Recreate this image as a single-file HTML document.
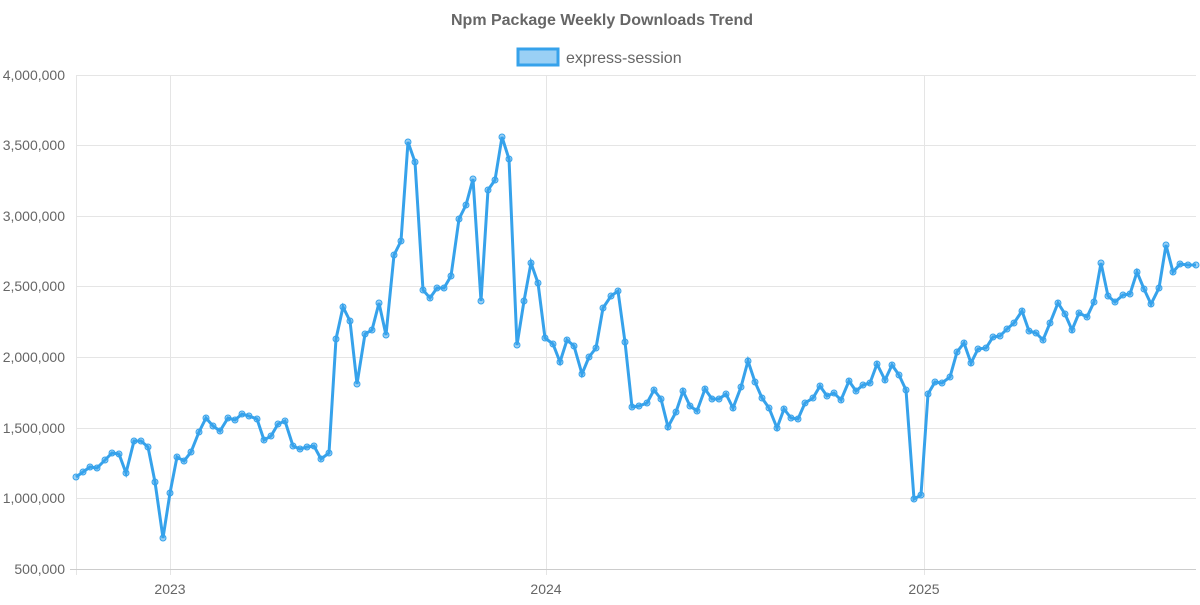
<!DOCTYPE html>
<html><head><meta charset="utf-8"><style>
body{margin:0;background:#fff;width:1200px;height:600px;overflow:hidden;font-family:"Liberation Sans",sans-serif}
</style></head><body>
<svg width="1200" height="600" xmlns="http://www.w3.org/2000/svg" font-family="Liberation Sans, sans-serif">
<text x="602" y="25" text-anchor="middle" font-size="16" font-weight="bold" fill="#666">Npm Package Weekly Downloads Trend</text>
<rect x="518" y="49" width="40" height="16" fill="rgba(54,162,235,0.5)" stroke="#36a2eb" stroke-width="3"/>
<text x="566" y="63" font-size="16" fill="#666">express-session</text>
<g stroke="#e5e5e5" stroke-width="1">
<line x1="76" y1="75.5" x2="1196" y2="75.5"/><line x1="76" y1="145.5" x2="1196" y2="145.5"/>
<line x1="76" y1="216.5" x2="1196" y2="216.5"/><line x1="76" y1="286.5" x2="1196" y2="286.5"/>
<line x1="76" y1="357.5" x2="1196" y2="357.5"/><line x1="76" y1="428.5" x2="1196" y2="428.5"/>
<line x1="76" y1="498.5" x2="1196" y2="498.5"/>
<line x1="76.5" y1="75" x2="76.5" y2="575"/><line x1="170.5" y1="75" x2="170.5" y2="575"/>
<line x1="546.5" y1="75" x2="546.5" y2="575"/><line x1="924.5" y1="75" x2="924.5" y2="575"/>
</g>
<line x1="70" y1="569.5" x2="1196" y2="569.5" stroke="#ccc"/>
<g font-size="14" fill="#666" text-anchor="end">
<text x="65" y="80">4,000,000</text><text x="65" y="150">3,500,000</text><text x="65" y="221">3,000,000</text>
<text x="65" y="291">2,500,000</text><text x="65" y="362">2,000,000</text><text x="65" y="433">1,500,000</text>
<text x="65" y="503">1,000,000</text><text x="65" y="574">500,000</text>
</g>
<g font-size="14" fill="#666" text-anchor="middle">
<text x="170" y="594">2023</text><text x="546" y="594">2024</text><text x="924" y="594">2025</text>
</g>
<polyline id="p" fill="none" stroke="#36a2eb" stroke-width="3" stroke-linejoin="miter" points="76,477 83,472 90,467 97,468 105,460 112,453 119,454 126,473 134,441 141,441 148,447 155,482 163,538 170,493 177,457 184,461 191,452 199,432 206,418 213,426 220,431 228,418 235,420 242,414 249,416 257,419 264,440 271,436 278,424 285,421 293,446 300,449 307,447 314,446 321,459 329,453 336,339 343,307 350,321 357,384 365,334 372,330 379,303 386,335 394,255 401,241 408,142 415,162 423,290 430,298 437,288 444,288 451,276 459,219 466,205 473,179 481,301 488,190 495,180 502,137 509,159 517,345 524,301 531,263 538,283 545,338 553,344 560,362 567,340 574,346 582,374 589,357 596,348 603,308 611,296 618,291 625,342 632,407 639,406 647,403 654,390 661,399 668,427 676,412 683,391 690,406 697,411 705,389 712,399 719,399 726,394 733,408 741,387 748,361 755,382 762,398 769,408 777,428 784,409 791,418 798,419 805,403 813,398 820,386 827,396 834,393 841,400 849,381 856,391 863,385 870,383 877,364 885,380 892,365 899,375 906,390 914,499 921,495 928,394 935,382 942,383 950,377 957,352 964,343 971,363 978,349 986,348 993,337 1000,336 1007,329 1014,323 1022,311 1029,331 1036,333 1043,340 1050,323 1058,303 1065,314 1072,330 1079,313 1087,317 1094,302 1101,263 1108,296 1115,302 1123,295 1130,294 1137,272 1144,289 1151,304 1159,288 1166,245 1173,272 1180,264 1188,265 1196,265"/>
<g id="dots" fill="rgba(54,162,235,0.5)" stroke="#36a2eb" stroke-width="1"></g>
</svg>
<script>
var pts=document.getElementById('p').getAttribute('points').trim().split(/\s+/);
var g=document.getElementById('dots'),s='';
pts.forEach(function(q){var a=q.split(',');s+='<circle cx="'+a[0]+'" cy="'+a[1]+'" r="3"/>';});
g.innerHTML=s;
</script>
</body></html>
